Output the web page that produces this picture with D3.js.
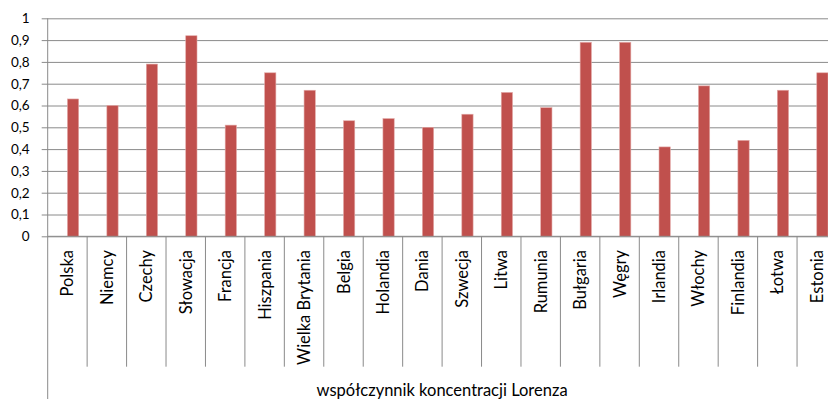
<!DOCTYPE html>
<html>
<head>
<meta charset="utf-8">
<script src="https://cdn.jsdelivr.net/npm/d3@7"></script>
<style>
  html, body { margin: 0; padding: 0; background: #fff; }
  svg { display: block; font-family: Lato, "Open Sans", sans-serif; }
</style>
</head>
<body>
<svg id="chart" width="828" height="399"></svg>
<script>
// Lorenz concentration coefficient by country
const countries = ["Polska", "Niemcy", "Czechy", "Słowacja", "Francja", "Hiszpania",
  "Wielka Brytania", "Belgia", "Holandia", "Dania", "Szwecja", "Litwa", "Rumunia",
  "Bułgaria", "Węgry", "Irlandia", "Włochy", "Finlandia", "Łotwa", "Estonia"];
const lorenz = [0.63, 0.60, 0.79, 0.92, 0.51, 0.75, 0.67, 0.53, 0.54, 0.50, 0.56,
  0.66, 0.59, 0.89, 0.89, 0.41, 0.69, 0.44, 0.67, 0.75];
// Each category holds two slots; the first is an empty series, the second carries the data
const seriesSlots = ["empty", "lorenz"];
const yTicks = [0, 0.1, 0.2, 0.3, 0.4, 0.5, 0.6, 0.7, 0.8, 0.9, 1];
const axisTitle = "współczynnik koncentracji Lorenza";

const svg = d3.select("#chart");
const plotLeft = 47.7, plotTop = 18.3, zeroY = 236.3;
const step = 39.44;
const plotRight = plotLeft + step * countries.length;

const x = d3.scaleBand().domain(countries).range([plotLeft, plotRight]).padding(0);
const slot = d3.scaleBand().domain(seriesSlots).range([0, x.bandwidth()])
  .paddingInner(0).paddingOuter(0.75);
const y = d3.scaleLinear().domain([0, 1]).range([zeroY, plotTop]);

const pl = d3.formatLocale({ decimal: ",", thousands: " ", grouping: [3], currency: ["", ""] });
const fmt = pl.format(".1~f");

const gridColor = "#8a8a8a";

// value axis with gridlines across the plot
const yAxis = svg.append("g")
  .attr("transform", `translate(${plotLeft},0)`)
  .call(d3.axisLeft(y).tickValues(yTicks).tickFormat(fmt).tickSize(6).tickPadding(12));
yAxis.select(".domain").remove();
yAxis.selectAll(".tick line")
  .attr("x1", -6).attr("x2", plotRight - plotLeft)
  .attr("stroke", gridColor).attr("stroke-width", 1);
yAxis.selectAll(".tick text")
  .attr("fill", "#000").attr("font-size", 13.5).attr("font-family", "Lato, sans-serif");

// bars
svg.append("g").selectAll("rect")
  .data(countries.map((c, i) => ({ c, v: lorenz[i] })))
  .join("rect")
  .attr("x", d => x(d.c) + slot("lorenz"))
  .attr("width", slot.bandwidth())
  .attr("y", d => y(d.v))
  .attr("height", d => zeroY - y(d.v))
  .attr("fill", "#C0504D")
  .attr("stroke", "#e3a9a7")
  .attr("stroke-width", 0.6);

// category separators hanging below the baseline
const sepBottom = 366.7;
const bounds = countries.map(c => x(c)).concat([plotRight]).slice(1);
svg.append("g").selectAll("line")
  .data(bounds)
  .join("line")
  .attr("x1", d => d).attr("x2", d => d)
  .attr("y1", zeroY).attr("y2", sepBottom)
  .attr("stroke", gridColor).attr("stroke-width", 1);

// baseline and vertical axis line
svg.append("line")
  .attr("x1", plotLeft).attr("x2", plotRight)
  .attr("y1", zeroY).attr("y2", zeroY)
  .attr("stroke", gridColor).attr("stroke-width", 1);
svg.append("line")
  .attr("x1", plotLeft).attr("x2", plotLeft)
  .attr("y1", plotTop).attr("y2", 399)
  .attr("stroke", gridColor).attr("stroke-width", 1);

// rotated category labels
svg.append("g").selectAll("text")
  .data(countries)
  .join("text")
  .attr("transform", d => `translate(${x(d) + x.bandwidth() / 2 + 6},250) rotate(-90)`)
  .attr("text-anchor", "end")
  .attr("font-size", 16.5)
  .attr("fill", "#000")
  .text(d => d);

// axis title
svg.append("text")
  .attr("x", (plotLeft + plotRight) / 2)
  .attr("y", 395.5)
  .attr("text-anchor", "middle")
  .attr("font-size", 16.5)
  .attr("fill", "#000")
  .text(axisTitle);
</script>
</body>
</html>
